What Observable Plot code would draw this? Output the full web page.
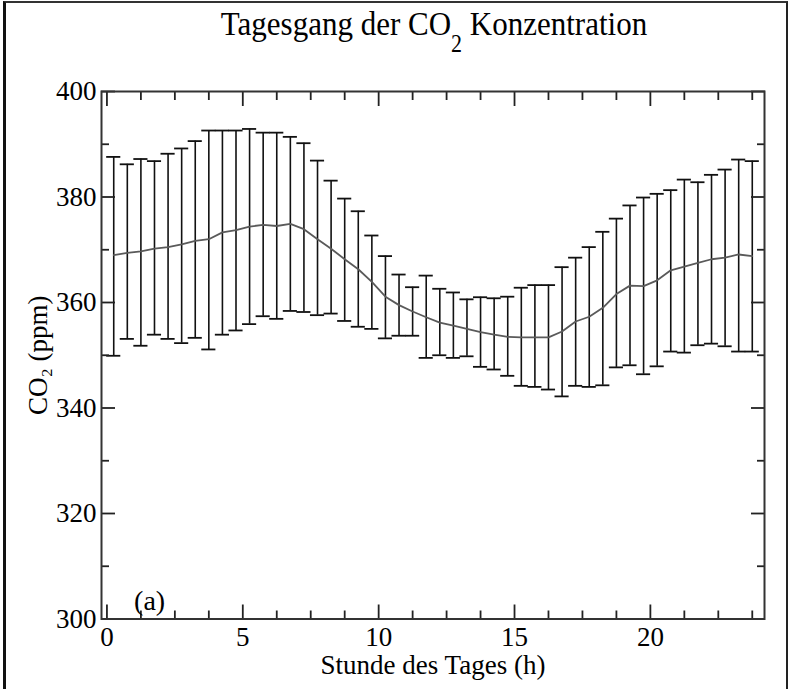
<!DOCTYPE html>
<html>
<head>
<meta charset="utf-8">
<script src="https://cdn.jsdelivr.net/npm/d3@7"></script>
<script src="https://cdn.jsdelivr.net/npm/@observablehq/plot@0.6"></script>
<style>
  body { margin: 0; background: #fff; }
  #fig { position: relative; width: 788px; height: 689px; overflow: hidden; background: #fff;
         font-family: "Liberation Serif", "Times New Roman", serif; color: #000; }
  #title { height: 50px; box-sizing: border-box; padding-left: 80px; padding-top: 9px; text-align: center;
           font-size: 31px; line-height: 31px; white-space: nowrap; }
  #title span.t { display: inline-block; transform: scaleY(1.12); transform-origin: 50% 80%; }
  #title sub { font-size: 22px; vertical-align: -15px; line-height: 0; }
  #chart svg { display: block; }
  #border { position: absolute; left: 3px; top: 1px; width: 780px; height: 700px;
            border-left: 3px solid #111; border-top: 2px solid #333; border-right: 2px solid #222; pointer-events: none; }
</style>
</head>
<body>
<div id="fig">
  <div id="title"><span class="t">Tagesgang der CO<sub>2</sub> Konzentration</span></div>
  <div id="chart"></div>
  <div id="border"></div>
</div>
<script>
// Hour of day (centre of each half-hour interval)
const hours = [0.25, 0.75, 1.25, 1.75, 2.25, 2.75, 3.25, 3.75, 4.25, 4.75, 5.25, 5.75,
               6.25, 6.75, 7.25, 7.75, 8.25, 8.75, 9.25, 9.75, 10.25, 10.75, 11.25, 11.75,
               12.25, 12.75, 13.25, 13.75, 14.25, 14.75, 15.25, 15.75, 16.25, 16.75, 17.25, 17.75,
               18.25, 18.75, 19.25, 19.75, 20.25, 20.75, 21.25, 21.75, 22.25, 22.75, 23.25, 23.75];
// Mean CO2 (ppm)
const meanCO2 = [369.0, 369.4, 369.7, 370.2, 370.5, 371.0, 371.7, 372.0, 373.3, 373.7, 374.4, 374.7,
                 374.5, 374.9, 373.9, 372.0, 370.2, 368.2, 366.3, 363.9, 361.1, 359.5, 358.3, 357.2,
                 356.2, 355.6, 355.0, 354.4, 353.9, 353.5, 353.4, 353.4, 353.4, 354.5, 356.4, 357.3,
                 359.0, 361.6, 363.2, 363.1, 364.2, 366.1, 366.8, 367.5, 368.2, 368.5, 369.1, 368.8];
// Upper end of error bar (ppm)
const upperCO2 = [387.6, 386.2, 387.2, 386.8, 388.2, 389.2, 390.6, 392.6, 392.6, 392.6, 392.9, 392.2,
                  392.2, 391.4, 390.2, 386.9, 383.1, 379.7, 377.3, 372.7, 368.8, 365.3, 362.9, 365.1,
                  362.6, 361.9, 360.6, 361.0, 360.8, 361.1, 362.8, 363.3, 363.3, 366.7, 368.5, 370.5,
                  373.4, 375.9, 378.4, 379.9, 380.6, 381.3, 383.3, 382.8, 384.2, 385.2, 387.1, 386.8];
// Lower end of error bar (ppm)
const lowerCO2 = [349.9, 353.1, 351.8, 353.9, 353.1, 352.3, 353.3, 351.1, 353.9, 354.7, 355.9, 357.4,
                  356.9, 358.4, 358.2, 357.6, 357.9, 356.5, 355.4, 355.0, 353.2, 353.7, 353.7, 349.5,
                  350.0, 349.5, 349.8, 347.8, 347.3, 346.1, 344.2, 344.0, 343.5, 342.2, 344.2, 344.0,
                  344.3, 347.7, 348.1, 346.4, 347.9, 350.7, 350.5, 351.9, 352.2, 351.7, 350.7, 350.7];

const xMajorTicks = [0, 5, 10, 15, 20];
const xMinorTicks = [1.25, 2.5, 3.75, 6.25, 7.5, 8.75, 11.25, 12.5, 13.75, 16.25, 17.5, 18.75, 21.25, 22.5, 23.75];
const yMajorTicks = [300, 320, 340, 360, 380, 400];
const yMinorTicks = [310, 330, 350, 370, 390];
const xDomain = [-0.2, 24.2];
const yDomain = [300, 400];
const panelLabel = [{x: 1.0, y: 303.5, text: "(a)"}];

const rows = hours.map((t, i) => ({t, mean: meanCO2[i], hi: upperCO2[i], lo: lowerCO2[i]}));
const capHalf = 0.26;
const barStroke = "#111";

const chart = Plot.plot({
  width: 788,
  height: 639,
  marginTop: 41,
  marginBottom: 70.5,
  marginLeft: 101,
  marginRight: 24,
  style: {fontFamily: "Liberation Serif, Times New Roman, serif", fontSize: "27px", color: "#000", background: "#fff"},
  x: {domain: xDomain},
  y: {domain: yDomain},
  marks: [
    Plot.ruleX(rows, {x: "t", y1: "lo", y2: "hi", stroke: barStroke, strokeWidth: 1.6}),
    Plot.ruleY(rows, {y: "hi", x1: d => d.t - capHalf, x2: d => d.t + capHalf, stroke: barStroke, strokeWidth: 1.8}),
    Plot.ruleY(rows, {y: "lo", x1: d => d.t - capHalf, x2: d => d.t + capHalf, stroke: barStroke, strokeWidth: 1.8}),
    Plot.line(rows, {x: "t", y: "mean", stroke: "#5a5a5a", strokeWidth: 1.8}),
    Plot.axisX({anchor: "bottom", ticks: xMajorTicks, tickSize: -14, tickPadding: 21.5, stroke: "#222", strokeWidth: 1.8,
                tickFormat: d => String(d), label: "Stunde des Tages (h)", labelAnchor: "center", labelArrow: "none", labelOffset: 55}),
    Plot.axisX({anchor: "bottom", ticks: xMinorTicks, tickSize: -8, stroke: "#222", strokeWidth: 1.8, text: null, label: null}),
    Plot.axisX({anchor: "top", ticks: xMajorTicks, tickSize: -14, stroke: "#222", strokeWidth: 1.8, text: null, label: null}),
    Plot.axisX({anchor: "top", ticks: xMinorTicks, tickSize: -8, stroke: "#222", strokeWidth: 1.8, text: null, label: null}),
    Plot.axisY({anchor: "left", ticks: yMajorTicks, tickSize: -14, tickPadding: 19, stroke: "#222", strokeWidth: 1.8,
                tickFormat: d => String(d), label: "CO₂ (ppm)", labelAnchor: "center", labelArrow: "none", labelOffset: 74}),
    Plot.axisY({anchor: "left", ticks: yMinorTicks, tickSize: -8, stroke: "#222", strokeWidth: 1.8, text: null, label: null}),
    Plot.axisY({anchor: "right", ticks: yMajorTicks, tickSize: -14, stroke: "#222", strokeWidth: 1.8, text: null, label: null}),
    Plot.axisY({anchor: "right", ticks: yMinorTicks, tickSize: -8, stroke: "#222", strokeWidth: 1.8, text: null, label: null}),
    Plot.frame({stroke: "#333", strokeWidth: 2}),
    Plot.text(panelLabel, {x: "x", y: "y", text: "text", textAnchor: "start", lineAnchor: "middle", fontSize: 28, fill: "#000"})
  ]
});
document.getElementById("chart").appendChild(chart);
</script>
</body>
</html>
